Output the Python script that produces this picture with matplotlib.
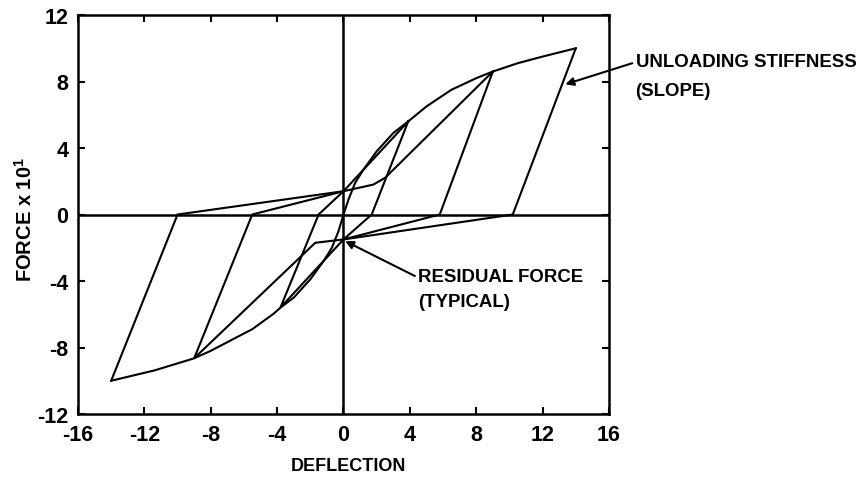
import matplotlib
matplotlib.use("Agg")
import matplotlib.pyplot as plt

plt.rcParams['font.family'] = ['Liberation Sans', 'DejaVu Sans']
plt.rcParams['font.weight'] = 'bold'
plt.rcParams['mathtext.fontset'] = 'custom'
plt.rcParams['mathtext.bf'] = 'Liberation Sans:bold'

# Backbone (envelope) curves
env_pos_x = [0, 0.3, 0.7, 1.2, 2.0, 3.0, 3.9, 5.0, 6.5, 8.0, 9.0, 10.5, 12.0, 14.0]
env_pos_y = [0, 0.9, 1.9, 2.7, 3.8, 4.9, 5.6, 6.5, 7.5, 8.2, 8.6, 9.1, 9.5, 10.0]
env_neg_x = [0, -0.3, -0.7, -1.2, -2.0, -3.0, -3.8, -4.2, -5.5, -6.6, -8.0, -9.0, -11.4, -14.0]
env_neg_y = [0, -1.0, -2.0, -2.8, -3.9, -5.0, -5.6, -5.96, -6.9, -7.47, -8.2, -8.65, -9.38, -10.0]

# Inner cycle (amplitude ~4)
loop1_x = [3.9, 1.7, 0.0, -3.8, -1.5, 0.0, 3.9]
loop1_y = [5.6, 0.0, -1.5, -5.6, 0.0, 1.4, 5.6]

# Middle cycle (amplitude ~9)
loop2_x = [9.0, 5.8, 0.0, -1.7, -9.0, -5.5, 0.0, 1.8, 2.5, 9.0]
loop2_y = [8.6, 0.0, -1.5, -1.7, -8.65, 0.0, 1.4, 1.8, 2.2, 8.6]

# Outer cycle (amplitude ~14)
loop3_x = [14.0, 10.2, 0.0]
loop3_y = [10.0, 0.0, -1.5]
loop3b_x = [-14.0, -10.0, 0.0]
loop3b_y = [-10.0, 0.0, 1.4]

x_ticks = [-16, -12, -8, -4, 0, 4, 8, 12, 16]
y_ticks = [-12, -8, -4, 0, 4, 8, 12]

fig = plt.figure(figsize=(8.59, 4.81), dpi=100)
ax = fig.add_axes([78/859, 1-415/481, (609-78)/859, (415-16)/481])

lw = 1.5
for xs, ys in [(env_pos_x, env_pos_y), (env_neg_x, env_neg_y), (loop1_x, loop1_y),
               (loop2_x, loop2_y), (loop3_x, loop3_y), (loop3b_x, loop3b_y)]:
    ax.plot(xs, ys, color='black', lw=lw, solid_joinstyle='miter')

ax.axhline(0, color='black', lw=1.8)
ax.axvline(0, color='black', lw=1.8)

ax.set_xlim(-16, 16)
ax.set_ylim(-12, 12)
ax.set_xticks(x_ticks)
ax.set_yticks(y_ticks)
ax.set_xticklabels([str(v) for v in x_ticks])
ax.set_yticklabels([str(v) for v in y_ticks])
ax.tick_params(direction='in', length=5, width=1.5, top=True, right=True,
               labelsize=15.5, pad=7)
for s in ax.spines.values():
    s.set_linewidth(1.8)

ax.set_xlabel('DEFLECTION', fontsize=13, fontweight='bold')
ax.xaxis.set_label_coords(0.51, -0.108)
ax.set_ylabel(r'FORCE x 10$^{\mathbf{1}}$', fontsize=14.5, fontweight='bold')
ax.yaxis.set_label_coords(-0.08, 0.49)

ax.annotate('', xy=(13.37, 7.83), xytext=(17.4, 9.1), annotation_clip=False,
            arrowprops=dict(arrowstyle='-|>', lw=1.5, color='black', mutation_scale=12,
                            shrinkA=0, shrinkB=0))
ax.text(17.6, 9.2, 'UNLOADING STIFFNESS', fontsize=13.4, fontweight='bold',
        va='center', ha='left', clip_on=False)
ax.text(17.6, 7.45, '(SLOPE)', fontsize=13.4, fontweight='bold',
        va='center', ha='left', clip_on=False)

ax.annotate('', xy=(0.1, -1.6), xytext=(4.3, -3.7), annotation_clip=False,
            arrowprops=dict(arrowstyle='-|>', lw=1.5, color='black', mutation_scale=12,
                            shrinkA=0, shrinkB=0))
ax.text(4.5, -3.75, 'RESIDUAL FORCE', fontsize=13.4, fontweight='bold',
        va='center', ha='left')
ax.text(4.5, -5.25, '(TYPICAL)', fontsize=13.4, fontweight='bold',
        va='center', ha='left')

fig.savefig('out.png', dpi=100)
